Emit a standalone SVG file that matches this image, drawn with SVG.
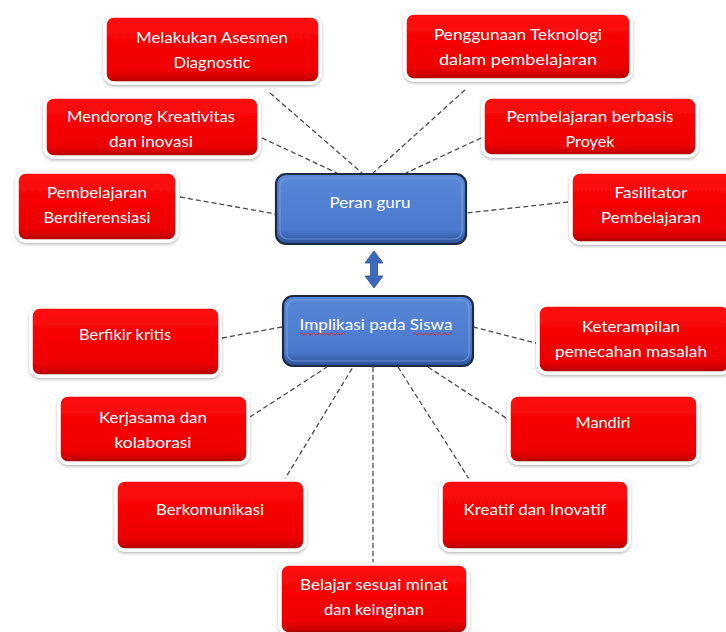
<svg xmlns="http://www.w3.org/2000/svg" width="726" height="632" viewBox="0 0 726 632">
<style>
.rb{fill:url(#red);stroke:#ffffff;stroke-width:3.5;filter:url(#sh)}
.bb{fill:url(#blue);stroke:#1d2a40;stroke-width:2.2}
.bi{fill:none;stroke:#7fa3e3;stroke-width:1.2;opacity:.7}
.t{font-family:Lato,"Open Sans","Liberation Sans",sans-serif;font-size:16px;fill:#ffffff;text-anchor:middle}
.c{stroke:#4a4a4a;stroke-width:1.3;stroke-dasharray:5 3;fill:none}
</style>
<defs>
<linearGradient id="red" x1="0" y1="0" x2="0" y2="1">
<stop offset="0" stop-color="#ff0a0a"/>
<stop offset="0.82" stop-color="#ee0000"/>
<stop offset="0.94" stop-color="#c80000"/>
<stop offset="1" stop-color="#8a0000"/>
</linearGradient>
<linearGradient id="blue" x1="0" y1="0" x2="0" y2="1">
<stop offset="0" stop-color="#5a88d8"/>
<stop offset="0.8" stop-color="#4a78cc"/>
<stop offset="1" stop-color="#2c4f95"/>
</linearGradient>
<filter id="sh" x="-10%" y="-10%" width="120%" height="130%">
<feDropShadow dx="0" dy="1.5" stdDeviation="1.5" flood-color="#000" flood-opacity="0.3"/>
</filter>
</defs>
<rect width="726" height="632" fill="#ffffff"/>
<g id="connectors">
<line class="c" x1="270" y1="93" x2="362" y2="173"/>
<line class="c" x1="262" y1="138" x2="337" y2="173"/>
<line class="c" x1="180" y1="197" x2="276" y2="214"/>
<line class="c" x1="465" y1="90" x2="373" y2="173"/>
<line class="c" x1="481" y1="138" x2="406" y2="173"/>
<line class="c" x1="568" y1="202" x2="466" y2="213"/>
<line class="c" x1="222" y1="338" x2="282" y2="327"/>
<line class="c" x1="250" y1="417" x2="327" y2="367"/>
<line class="c" x1="283" y1="482" x2="353" y2="367"/>
<line class="c" x1="373" y1="367" x2="373" y2="563"/>
<line class="c" x1="398" y1="367" x2="471" y2="482"/>
<line class="c" x1="428" y1="367" x2="506" y2="418"/>
<line class="c" x1="473" y1="327" x2="536" y2="343"/>
<polygon id="arrow" points="374,251 383,263 377.5,263 377.5,276 383,276 374,288 365,276 370.5,276 370.5,263 365,263" fill="#3d6bbb" stroke="#2c4f95" stroke-width="0.8"/>
</g>
<g id="peran-guru">
<rect class="bb" x="276" y="174" width="190" height="70" rx="10"/>
<rect class="bi" x="280" y="178" width="182" height="61" rx="8"/>
<text class="t" x="370" y="208" textLength="81" lengthAdjust="spacingAndGlyphs">Peran guru</text>
</g>
<g id="implikasi">
<rect class="bb" x="283" y="296" width="190" height="70" rx="10"/>
<rect class="bi" x="287" y="300" width="182" height="61" rx="8"/>
<text class="t" x="376" y="330" textLength="153" lengthAdjust="spacingAndGlyphs">Implikasi pada Siswa</text>
<path d="M300,334 q1.5,-2 3,0 t3,0 t3,0 t3,0 t3,0 t3,0 t3,0 t3,0 t3,0 t3,0 t3,0 t3,0 t3,0 t3,0 t3,0" fill="none" stroke="#e02020" stroke-width="0.9"/>
<path d="M413,334 q1.5,-2 3,0 t3,0 t3,0 t3,0 t3,0 t3,0 t3,0 t3,0 t3,0 t3,0 t3,0 t3,0 t3,0" fill="none" stroke="#e02020" stroke-width="0.9"/>
</g>
<g id="asesmen">
<rect class="rb" x="105" y="16" width="215" height="67" rx="9"/>
<text class="t" x="212" y="43" textLength="152" lengthAdjust="spacingAndGlyphs">Melakukan Asesmen</text>
<text class="t" x="212" y="68" textLength="77" lengthAdjust="spacingAndGlyphs">Diagnostic</text>
</g>
<g id="kreativitas">
<rect class="rb" x="45" y="97" width="214" height="60" rx="9"/>
<text class="t" x="151" y="122" textLength="168" lengthAdjust="spacingAndGlyphs">Mendorong Kreativitas</text>
<text class="t" x="151" y="147" textLength="84" lengthAdjust="spacingAndGlyphs">dan inovasi</text>
</g>
<g id="berdiferensiasi">
<rect class="rb" x="17" y="172" width="160" height="69" rx="9"/>
<text class="t" x="97" y="198" textLength="100" lengthAdjust="spacingAndGlyphs">Pembelajaran</text>
<text class="t" x="97" y="223" textLength="107" lengthAdjust="spacingAndGlyphs">Berdiferensiasi</text>
</g>
<g id="teknologi">
<rect class="rb" x="405" y="13" width="226" height="67" rx="9"/>
<text class="t" x="518" y="40" textLength="168" lengthAdjust="spacingAndGlyphs">Penggunaan Teknologi</text>
<text class="t" x="518" y="65" textLength="158" lengthAdjust="spacingAndGlyphs">dalam pembelajaran</text>
</g>
<g id="proyek">
<rect class="rb" x="483" y="97" width="214" height="59" rx="9"/>
<text class="t" x="590" y="122" textLength="167" lengthAdjust="spacingAndGlyphs">Pembelajaran berbasis</text>
<text class="t" x="590" y="147" textLength="49" lengthAdjust="spacingAndGlyphs">Proyek</text>
</g>
<g id="fasilitator">
<rect class="rb" x="571" y="172" width="165" height="71" rx="9"/>
<text class="t" x="651" y="198" textLength="73" lengthAdjust="spacingAndGlyphs">Fasilitator</text>
<text class="t" x="651" y="223" textLength="100" lengthAdjust="spacingAndGlyphs">Pembelajaran</text>
</g>
<g id="berfikir-kritis">
<rect class="rb" x="31" y="307" width="189" height="69" rx="9"/>
<text class="t" x="125" y="340" textLength="92" lengthAdjust="spacingAndGlyphs">Berfikir kritis</text>
</g>
<g id="kerjasama">
<rect class="rb" x="59" y="395" width="189" height="68" rx="9"/>
<text class="t" x="153" y="423" textLength="108" lengthAdjust="spacingAndGlyphs">Kerjasama dan</text>
<text class="t" x="153" y="448" textLength="77" lengthAdjust="spacingAndGlyphs">kolaborasi</text>
</g>
<g id="berkomunikasi">
<rect class="rb" x="116" y="480" width="189" height="70" rx="9"/>
<text class="t" x="210" y="515" textLength="108" lengthAdjust="spacingAndGlyphs">Berkomunikasi</text>
</g>
<g id="belajar">
<rect class="rb" x="280" y="564" width="188" height="70" rx="9"/>
<text class="t" x="374" y="590" textLength="148" lengthAdjust="spacingAndGlyphs">Belajar sesuai minat</text>
<text class="t" x="374" y="615" textLength="100" lengthAdjust="spacingAndGlyphs">dan keinginan</text>
</g>
<g id="keterampilan">
<rect class="rb" x="538" y="305" width="192" height="68" rx="9"/>
<text class="t" x="631" y="332" textLength="98" lengthAdjust="spacingAndGlyphs">Keterampilan</text>
<text class="t" x="631" y="357" textLength="152" lengthAdjust="spacingAndGlyphs">pemecahan masalah</text>
</g>
<g id="mandiri">
<rect class="rb" x="509" y="395" width="189" height="68" rx="9"/>
<text class="t" x="603" y="428" textLength="55" lengthAdjust="spacingAndGlyphs">Mandiri</text>
</g>
<g id="kreatif">
<rect class="rb" x="441" y="480" width="188" height="70" rx="9"/>
<text class="t" x="535" y="515" textLength="143" lengthAdjust="spacingAndGlyphs">Kreatif dan Inovatif</text>
</g>
</svg>
